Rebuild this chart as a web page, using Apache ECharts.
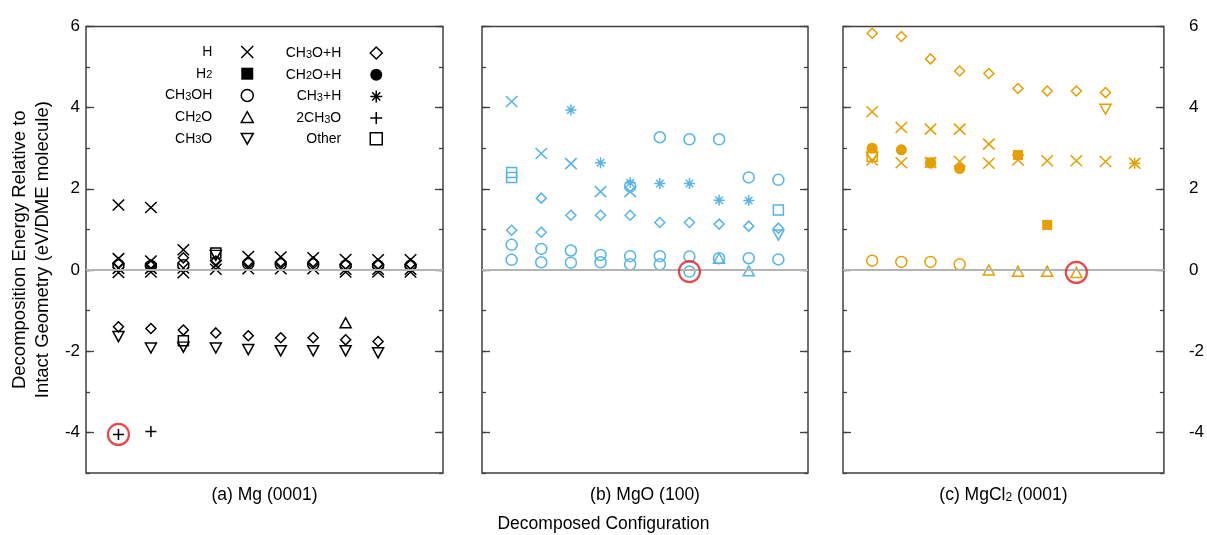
<!DOCTYPE html>
<html><head><meta charset="utf-8">
<script src="https://cdn.jsdelivr.net/npm/echarts@6/dist/echarts.min.js"></script>
<style>html,body{margin:0;padding:0;background:#fff}#c{width:1207px;height:535px}</style>
</head><body><div id="c"></div>
<script>
// ---------- DATA ----------
const species = ['H','H2','CH3OH','CH2O','CH3O','CH3O+H','CH2O+H','CH3+H','2CH3O','Other'];
const legendCol1 = ['H','H2','CH3OH','CH2O','CH3O'];
const legendCol2 = ['CH3O+H','CH2O+H','CH3+H','2CH3O','Other'];
const yMajorTicks = [-4,-2,0,2,4,6];
const panelLabels = ['(a) Mg (0001)','(b) MgO (100)','(c) MgCl{s|2} (0001)'];

// (a) Mg(0001): [configuration, energy]
const mgH = [[1,1.6],[1,0.28],[1,0.04],[1,-0.06],[2,1.54],[2,0.22],[2,0.04],[2,-0.05],[3,0.5],[3,0.05],[3,-0.07],[4,0.12],[4,0.02],[5,0.33],[5,0.03],[6,0.32],[6,0.03],[7,0.3],[7,0.03],[8,0.26],[8,0.02],[8,-0.05],[9,0.25],[9,0.02],[9,-0.05],[10,0.25],[10,0.02],[10,-0.05]];
const mgCH3OH = [[1,0.12],[2,0.1],[3,0.12],[5,0.15],[6,0.14],[7,0.14],[8,0.1],[9,0.1],[10,0.1]];
const mgCH2O = [[8,-1.3]];
const mgCH3O = [[1,-1.64],[2,-1.92],[3,-1.9],[4,0.36],[4,-1.92],[5,-1.96],[6,-1.99],[7,-1.99],[8,-1.99],[9,-2.04]];
const mgCH3OH_H = [[1,0.18],[1,-1.4],[2,0.12],[2,-1.44],[3,0.3],[3,-1.48],[4,0.22],[4,-1.55],[5,0.2],[5,-1.62],[6,0.2],[6,-1.67],[7,0.2],[7,-1.67],[8,0.15],[8,-1.72],[9,0.15],[9,-1.76],[10,0.15]];
const mg2CH3O = [[1,-4.05],[2,-3.98]];
const mgOther = [[3,-1.74],[4,0.42]];

// (b) MgO(100)
const moH = [[1,4.15],[2,2.87],[3,2.62],[4,1.93],[5,1.93]];
const moCH3OH = [[1,0.62],[1,0.25],[2,0.52],[2,0.19],[3,0.48],[3,0.18],[4,0.37],[4,0.19],[5,2.06],[5,0.34],[5,0.14],[6,3.27],[6,0.34],[6,0.14],[7,3.22],[7,0.33],[7,-0.04],[8,3.22],[8,0.29],[9,2.28],[9,0.29],[10,2.22],[10,0.26]];
const moCH2O = [[8,0.29],[9,-0.02]];
const moCH3O = [[10,0.86]];
const moCH3OH_H = [[1,0.98],[2,1.77],[2,0.93],[3,1.35],[4,1.35],[5,1.35],[6,1.17],[7,1.17],[8,1.13],[9,1.08],[10,1.03]];
const moCH3_H = [[3,3.94],[4,2.64],[5,2.15],[6,2.13],[7,2.13],[8,1.72],[9,1.71]];
const moOther = [[1,2.28],[1,2.40],[10,1.48]];

// (c) MgCl2(0001)
const mcH = [[1,3.9],[1,2.71],[2,3.51],[2,2.64],[3,3.47],[3,2.65],[4,3.47],[4,2.67],[5,3.1],[5,2.63],[6,2.71],[7,2.69],[8,2.69],[9,2.67],[10,2.63]];
const mcH2 = [[3,2.65],[6,2.83],[7,1.11]];
const mcCH3OH = [[1,0.23],[2,0.2],[3,0.2],[4,0.14]];
const mcCH2O = [[5,0.0],[6,-0.03],[7,-0.03],[8,-0.06]];
const mcCH3O = [[1,2.77],[9,3.96]];
const mcCH3OH_H = [[1,5.83],[2,5.75],[3,5.2],[4,4.9],[5,4.84],[6,4.47],[7,4.41],[8,4.41],[9,4.37]];
const mcCH2O_H = [[1,3.0],[2,2.96],[3,2.63],[4,2.5]];
const mcCH3_H = [[10,2.63]];
const mcOther = [[1,2.8]];

// highlighted (red-circled) configurations
const highlightA = [mg2CH3O[0]];
const highlightB = [moCH3OH[16]];
const highlightC = [mcCH2O[3]];

// ---------- STYLE ----------
const FONT = 'Liberation Sans, Arial, sans-serif';
const colors = ['#000000','#56B4E9','#E69F00'];
const grids = [
  {left:86, top:26.4, width:357, height:446.6},
  {left:482, top:26.4, width:326, height:446.6},
  {left:843, top:26.4, width:325, height:446.6}
];
const symbolDefs = {
  'H':      {symbol:'path://M0,0L10,10M10,0L0,10', size:[11.5,11], fill:false},
  'H2':     {symbol:'rect', size:[10,10], fill:true},
  'CH3OH':  {symbol:'circle', size:11, fill:false},
  'CH2O':   {symbol:'path://M5,0L10,9L0,9Z', size:[11,10], fill:false},
  'CH3O':   {symbol:'path://M0,0L10,0L5,9Z', size:[11,10], fill:false},
  'CH3O+H': {symbol:'diamond', size:[10,10], fill:false},
  'CH2O+H': {symbol:'circle', size:11, fill:true},
  'CH3+H':  {symbol:'path://M5,0L5,10M0,5L10,5M1.6,1.6L8.4,8.4M8.4,1.6L1.6,8.4', size:[11,11], fill:false},
  '2CH3O':  {symbol:'path://M5,0L5,10M0,5L10,5', size:[11,11], fill:false},
  'Other':  {symbol:'rect', size:[10,10], fill:false}
};
const legendLabels = {
  'H':'H','H2':'H{s|2}','CH3OH':'CH{s|3}OH','CH2O':'CH{s|2}O','CH3O':'CH{s|3}O',
  'CH3O+H':'CH{s|3}O+H','CH2O+H':'CH{s|2}O+H','CH3+H':'CH{s|3}+H','2CH3O':'2CH{s|3}O','Other':'Other'
};
const panelData = [
  {'H':mgH,'CH3OH':mgCH3OH,'CH2O':mgCH2O,'CH3O':mgCH3O,'CH3O+H':mgCH3OH_H,'2CH3O':mg2CH3O,'Other':mgOther},
  {'H':moH,'CH3OH':moCH3OH,'CH2O':moCH2O,'CH3O':moCH3O,'CH3O+H':moCH3OH_H,'CH3+H':moCH3_H,'Other':moOther},
  {'H':mcH,'H2':mcH2,'CH3OH':mcCH3OH,'CH2O':mcCH2O,'CH3O':mcCH3O,'CH3O+H':mcCH3OH_H,'CH2O+H':mcCH2O_H,'CH3+H':mcCH3_H,'Other':mcOther}
];
const highlights = [highlightA, highlightB, highlightC];

const sub = {fontSize: 11, verticalAlign: 'bottom', lineHeight: 11, padding:[4,0,0,0]};

const xAxis = [], yAxis = [], series = [];
grids.forEach((g, p) => {
  xAxis.push({
    type:'value', gridIndex:p, min:0, max:11,
    axisLine:{show:false}, axisTick:{show:false}, axisLabel:{show:false}, splitLine:{show:false},
    name: panelLabels[p], nameLocation:'middle', nameGap:13,
    nameTextStyle:{fontSize:17.5, color:'#000', fontFamily:FONT, rich:{s:{fontSize:12, fontFamily:FONT, verticalAlign:'bottom', lineHeight:12, padding:[5,0,0,0]}}}
  });
  ['left','right'].forEach(pos => {
    const showLabel = (p === 0 && pos === 'left') || (p === 2 && pos === 'right');
    yAxis.push({
      type:'value', gridIndex:p, position:pos, min:-5, max:6, interval:1,
      axisLine:{show:false}, splitLine:{show:false}, axisLabel:{show:false},
      axisTick:{show:true, inside:true, length:4, lineStyle:{color:'#404040', width:1.3}}
    });
    const ax = {
      type:'value', gridIndex:p, position:pos, min:-5, max:6, interval:1,
      axisLine:{show:false}, splitLine:{show:false},
      axisTick:{show:true, inside:true, length:8, customValues:yMajorTicks, lineStyle:{color:'#404040', width:1.3}},
      axisLabel:{show:showLabel, customValues:yMajorTicks, fontSize:17, color:'#000', fontFamily:FONT, margin: pos==='left'?6:25}
    };
    if (p === 0 && pos === 'left') {
      ax.name = 'Decomposition Energy Relative to\nIntact Geometry (eV/DME molecule)';
      ax.nameLocation = 'middle';
      ax.nameRotate = 90;
      ax.nameGap = 32;
      ax.nameTextStyle = {fontSize:18.5, color:'#000', fontFamily:FONT, lineHeight:23};
    }
    yAxis.push(ax);
  });
  const yIdx = p * 4;
  series.push({
    type:'scatter', xAxisIndex:p, yAxisIndex:yIdx, data:[], silent:true, z:1,
    markLine:{silent:true, symbol:'none', label:{show:false}, animation:false,
      lineStyle:{color:'#b4b4b4', width:2, type:'solid'}, data:[{yAxis:0}]}
  });
  species.forEach(name => {
    const d = panelData[p][name];
    if (!d) return;
    const s = symbolDefs[name];
    series.push({
      type:'scatter', name:name, xAxisIndex:p, yAxisIndex:yIdx, data:d,
      symbol:s.symbol, symbolSize:s.size, z:3, animation:false,
      itemStyle:{color: s.fill ? colors[p] : 'rgba(0,0,0,0)', borderColor: colors[p], borderWidth: s.fill ? 0 : 1.5, opacity:1}
    });
  });
  series.push({
    type:'scatter', name:'highlight', xAxisIndex:p, yAxisIndex:yIdx, data:highlights[p],
    symbol:'circle', symbolSize:21, z:5, animation:false,
    itemStyle:{color:'rgba(0,0,0,0)', borderColor:'#e31a1c', borderWidth:2.2}
  });
});

const legendItems = names => names.map(n => ({
  name:n,
  itemStyle:{color: symbolDefs[n].fill ? '#000' : 'rgba(0,0,0,0)', borderColor:'#000', borderWidth: symbolDefs[n].fill ? 0 : 1.5}
}));
const legendBase = {
  orient:'vertical', align:'right', selectedMode:false, padding:0,
  itemWidth:12, itemHeight:12, itemGap:6.7, top:45,
  formatter: n => legendLabels[n],
  textStyle:{fontSize:14, color:'#000', fontFamily:FONT, padding:[0,24,0,0], rich:{s:sub}}
};

const option = {
  animation:false,
  backgroundColor:'#fff',
  grid: grids.map(g => Object.assign({show:true, borderColor:'#404040', borderWidth:1.5, backgroundColor:'transparent'}, g)),
  xAxis, yAxis, series,
  legend:[
    Object.assign({}, legendBase, {data:legendItems(legendCol1), right:1207-254}),
    Object.assign({}, legendBase, {data:legendItems(legendCol2), right:1207-383})
  ],
  graphic:[{type:'text', left:'center', top:515, style:{text:'Decomposed Configuration', fontSize:17.5, fill:'#000', fontFamily:FONT}}]
};
const chart = echarts.init(document.getElementById('c'), null, {renderer:'canvas'});
chart.setOption(option);
</script></body></html>
